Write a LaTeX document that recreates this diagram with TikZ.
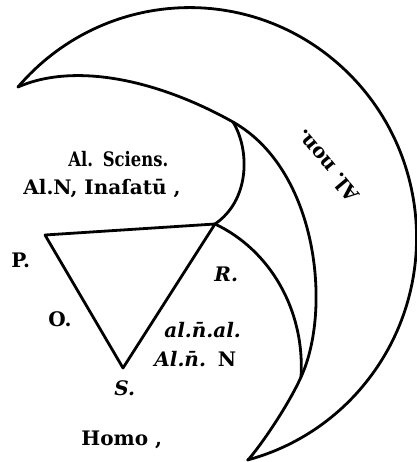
\documentclass[tikz,border=0pt]{standalone}
\usepackage{fontspec}
\setmainfont{DejaVu Serif}
\begin{document}
\begin{tikzpicture}[x=1pt,y=-1pt, line width=2.8pt, line join=round, line cap=round,
  lab/.style={anchor=base west, font=\fontsize{20}{24}\selectfont\bfseries, inner sep=0pt}]
\useasboundingbox (0,0) rectangle (416,462);
\coordinate (TA) at (18,87);
\coordinate (TB) at (248,460);
\coordinate (J1) at (233,122);
\coordinate (J2) at (301,377);
\coordinate (P) at (45,235);
\coordinate (R) at (215,224);
\coordinate (S) at (123,368);
% outer crescent
\draw (TA) arc[start angle=-139.1, end angle=75.2, x radius=227, y radius=230];
\draw (TA) .. controls (75,62) and (158,80) .. (J1)
           .. controls (318,170) and (332,310) .. (J2)
           .. controls (289,404) and (262,444) .. (TB);
% inner curves
\draw (J1) .. controls (250,150) and (250,200) .. (R);
\draw (R) .. controls (270,250) and (305,310) .. (J2);
% triangle
\draw (P) -- (R) -- (S) -- cycle;
% labels
\node[lab] (t1) at (67,167) {\scalebox{0.82}[1]{Al.\hspace{0.6em}Sciens.}};
\node[lab] (t2) at (22,194) {Al.N,\ Inaſatū\ ,};
\node[lab] (lp) at (10,267) {P.};
\node[lab] (lr) at (213,281) {\itshape R.};
\node[lab] (lo) at (47,326) {O.};
\node[lab] (t3) at (163,337) {\itshape al.n̄.al.};
\node[lab] (t4) at (153,366) {\textit{Al.n̄.}\hspace{0.6em}N};
\node[lab] (ls) at (113,395) {\itshape S.};
\node[lab] (lh) at (80,445) {Homo\ ,};
\node[lab, anchor=center, rotate=130] (ln) at (327,166) {Al.\ non.};
\end{tikzpicture}
\end{document}
